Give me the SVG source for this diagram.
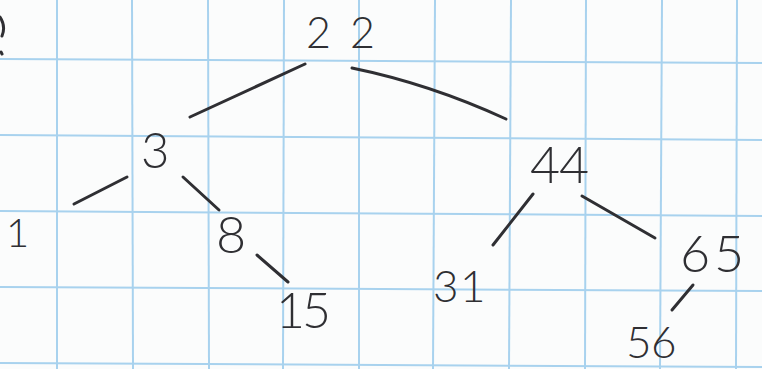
<svg xmlns="http://www.w3.org/2000/svg" width="762" height="369" viewBox="0 0 762 369">
<style>
.grid line{stroke:#a8d2ee;stroke-width:2}
.edge{stroke:#2f2f33;stroke-width:3;stroke-linecap:round;fill:none}
.lbl{font-family:"Lato","Liberation Sans",sans-serif;font-weight:300;fill:#2f2f33}
</style>
<rect width="762" height="369" fill="#fbfcfc"/>
<g class="grid">
<line x1="57" y1="0" x2="57" y2="369"/>
<line x1="132" y1="0" x2="133" y2="369"/>
<line x1="208" y1="0" x2="209" y2="369"/>
<line x1="284" y1="0" x2="283" y2="369"/>
<line x1="359" y1="0" x2="359" y2="369"/>
<line x1="435" y1="0" x2="433" y2="369"/>
<line x1="511" y1="0" x2="509" y2="369"/>
<line x1="586" y1="0" x2="585" y2="369"/>
<line x1="662" y1="0" x2="660" y2="369"/>
<line x1="737" y1="0" x2="736" y2="369"/>
<line x1="0" y1="59" x2="762" y2="63"/>
<line x1="0" y1="135" x2="762" y2="140"/>
<line x1="0" y1="211" x2="762" y2="216"/>
<line x1="0" y1="287" x2="762" y2="291"/>
<line x1="0" y1="363" x2="762" y2="367"/>
</g>
<path class="edge" d="M0 17 Q6 26 2 36 M1 52 L2 54"/>
<g id="connectors">
<path class="edge" d="M305 64 L190 117"/>
<path class="edge" d="M352 68 Q430 84 506 119"/>
<path class="edge" d="M127 177 L74 204"/>
<path class="edge" d="M183 177 L219 210"/>
<path class="edge" d="M257 255 L288 282"/>
<path class="edge" d="M533 194 L493 245"/>
<path class="edge" d="M582 196 L655 238"/>
<path class="edge" d="M693 285 L672 310"/>
</g>
<g id="n22"><text class="lbl" x="306 350" y="48" font-size="43">22</text></g>
<g id="n3"><text class="lbl" x="141" y="168" font-size="49">3</text></g>
<g id="n1"><text class="lbl" x="6" y="247" font-size="40">1</text></g>
<g id="n8"><text class="lbl" x="216" y="253" font-size="52">8</text></g>
<g id="n15"><text class="lbl" x="276 302" y="328" font-size="50">15</text></g>
<g id="n44"><text class="lbl" x="530 559" y="183" font-size="52">44</text></g>
<g id="n31"><text class="lbl" x="433 460" y="302" font-size="44">31</text></g>
<g id="n65"><text class="lbl" x="680 714" y="272" font-size="52">65</text></g>
<g id="n56"><text class="lbl" x="626 651" y="358" font-size="44">56</text></g>
</svg>
